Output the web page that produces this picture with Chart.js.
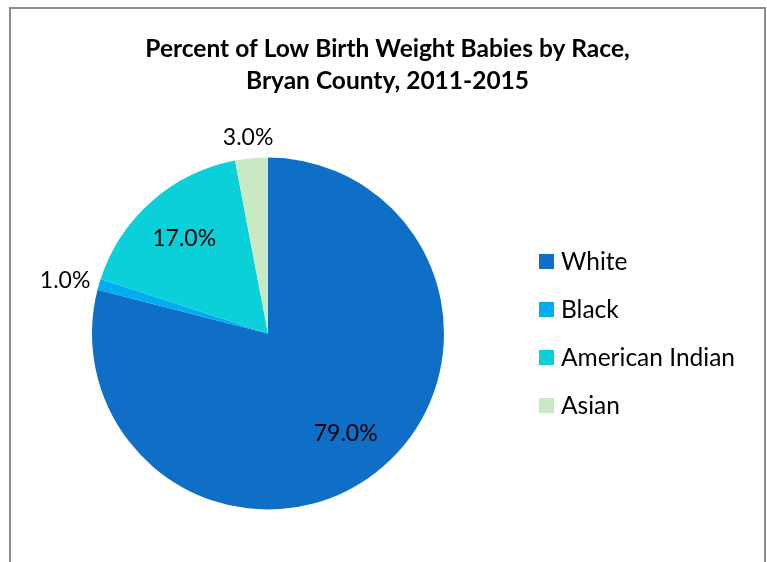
<!DOCTYPE html>
<html>
<head>
<meta charset="utf-8">
<script src="https://cdn.jsdelivr.net/npm/chart.js@4"></script>
<style>
    body { margin: 0; background: #ffffff; overflow: hidden; }
    #frame {
        position: absolute; left: 9px; top: 7px;
        width: 753px; height: 600px;
        border: 2px solid #8c8c8c;
    }
    #wrap { position: absolute; left: 11px; top: 0; width: 753px; height: 562px; }
</style>
</head>
<body>
<div id="frame"></div>
<div id="wrap"><canvas id="myChart" width="753" height="562"></canvas></div>
<script>
// Chart data
const categories = ['White', 'Black', 'American Indian', 'Asian'];
const percentValues = [79.0, 1.0, 17.0, 3.0];
const sliceColors = ['#0F6FC6', '#00ADEF', '#0BD0D9', '#C8E9C2'];
const titleLines = ['Percent of Low Birth Weight Babies by Race,', 'Bryan County, 2011-2015'];

const FONT = 'Lato, "Open Sans", sans-serif';

// Title across the full width (the built-in one is squeezed by the padding)
const topTitle = {
    id: 'topTitle',
    afterDraw(chart) {
        const ctx = chart.ctx;
        ctx.save();
        ctx.font = 'bold 24.5px ' + FONT;
        ctx.fillStyle = '#000000';
        ctx.textAlign = 'center';
        ctx.textBaseline = 'middle';
        titleLines.forEach((line, i) => {
            ctx.fillText(line, chart.width / 2, 49 + i * 32);
        });
        ctx.restore();
    }
};

// Percent labels on / next to the slices
const sliceLabels = {
    id: 'sliceLabels',
    afterDatasetsDraw(chart) {
        const ctx = chart.ctx;
        const meta = chart.getDatasetMeta(0);
        ctx.save();
        ctx.font = '23px ' + FONT;
        ctx.fillStyle = '#000000';
        ctx.textAlign = 'center';
        ctx.textBaseline = 'middle';
        meta.data.forEach((arc, i) => {
            const p = arc.getProps(['x', 'y', 'startAngle', 'endAngle', 'outerRadius'], true);
            const mid = (p.startAngle + p.endAngle) / 2;
            const dx = Math.cos(mid), dy = Math.sin(mid);
            const text = percentValues[i].toFixed(1) + '%';
            let lx, ly;
            if (percentValues[i] >= 5) {
                // inside the slice
                lx = p.x + dx * p.outerRadius * 0.72;
                ly = p.y + dy * p.outerRadius * 0.72;
            } else {
                // small slices get the label outside the edge
                const w = ctx.measureText(text).width;
                const h = 22;
                const r = p.outerRadius + 10;
                lx = p.x + dx * r + dx * w / 2;
                ly = p.y + dy * r + dy * Math.abs(dy) * h / 2;
            }
            ctx.fillText(text, lx, ly);
        });
        ctx.restore();
    }
};

// Legend on the right
const sideLegend = {
    id: 'sideLegend',
    afterDraw(chart) {
        const ctx = chart.ctx;
        const area = chart.chartArea;
        const cy = (area.top + area.bottom) / 2;
        const step = 48;
        const box = 15;
        const x0 = area.right + 95;
        ctx.save();
        ctx.font = '24.5px ' + FONT;
        ctx.textAlign = 'left';
        ctx.textBaseline = 'middle';
        categories.forEach((name, i) => {
            const y = cy + (i - (categories.length - 1) / 2) * step;
            ctx.fillStyle = sliceColors[i];
            ctx.fillRect(x0, y - box / 2, box, box);
            ctx.fillStyle = '#000000';
            ctx.fillText(name, x0 + box + 7, y + 1);
        });
        ctx.restore();
    }
};

const ctx = document.getElementById('myChart').getContext('2d');
new Chart(ctx, {
    type: 'pie',
    data: {
        labels: categories,
        datasets: [{
            data: percentValues,
            backgroundColor: sliceColors,
            borderWidth: 0
        }]
    },
    options: {
        responsive: false,
        animation: false,
        layout: {
            padding: { left: 81, right: 320, top: 157, bottom: 52 }
        },
        plugins: {
            legend: { display: false },
            tooltip: { enabled: false },
            title: { display: false }
        }
    },
    plugins: [topTitle, sliceLabels, sideLegend]
});
</script>
</body>
</html>
